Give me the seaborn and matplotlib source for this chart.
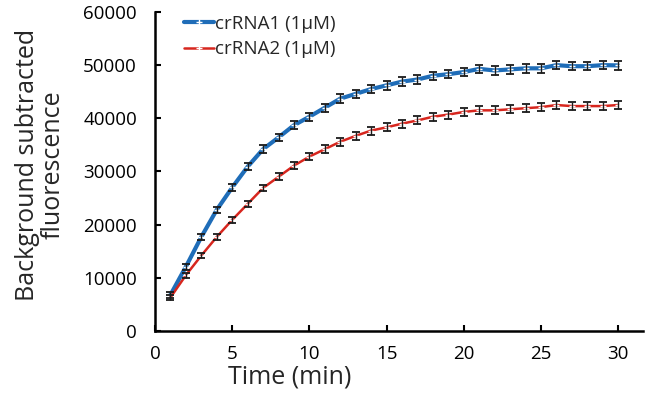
import numpy as np
import pandas as pd
import matplotlib
matplotlib.use("Agg")
import matplotlib.pyplot as plt
import seaborn as sns

time_min = list(range(1, 31))
crrna1 = [6800, 12100, 17700, 22800, 27000, 30900, 34200, 36400, 38700, 40300,
          42000, 43700, 44600, 45500, 46200, 46900, 47300, 48000, 48300, 48700,
          49300, 49000, 49200, 49400, 49400, 50000, 49800, 49800, 50000, 49950]
crrna2 = [6300, 10500, 14200, 17700, 20900, 23900, 26900, 29000, 31100, 32800,
          34200, 35600, 36700, 37700, 38300, 39000, 39600, 40300, 40700, 41200,
          41500, 41500, 41700, 41900, 42100, 42500, 42300, 42300, 42300, 42500]
err1 = [500, 550, 600, 600, 650, 650, 700, 700, 750, 750,
        750, 800, 800, 800, 800, 800, 800, 800, 800, 800,
        800, 800, 800, 800, 800, 800, 800, 800, 800, 800]
err2 = [450, 500, 550, 550, 600, 600, 650, 650, 700, 700,
        700, 750, 750, 750, 750, 750, 750, 750, 750, 750,
        750, 750, 750, 750, 750, 750, 750, 750, 750, 750]
series_names = ["crRNA1 (1\u00b5M)", "crRNA2 (1\u00b5M)"]
x_ticks = [0, 5, 10, 15, 20, 25, 30]
y_ticks = [0, 10000, 20000, 30000, 40000, 50000, 60000]

sns.set_theme(style="ticks")
plt.rcParams['font.family'] = ['Open Sans', 'DejaVu Sans']

fig = plt.figure(figsize=(6.5, 3.99), dpi=100)
ax = fig.add_axes([0.2385, 0.1704, 0.7505, 0.7996])

styles = [("#1f6db8", 3.0), ("#d7261e", 1.8)]
for name, ys, es, (col, lw) in zip(series_names, [crrna1, crrna2], [err1, err2], styles):
    d = pd.DataFrame({"Time": time_min, "Fluor": ys})
    sns.lineplot(data=d, x="Time", y="Fluor", color=col, linewidth=lw,
                 marker="+", markersize=5, markeredgewidth=1.0,
                 label=name, ax=ax, zorder=3)
    ax.errorbar(time_min, ys, yerr=es, fmt="none", ecolor="#1a1a1a",
                elinewidth=1.0, capsize=2.6, capthick=1.3, zorder=4)

ax.set_xlim(0, 31.6)
ax.set_ylim(0, 60000)
ax.set_xticks(x_ticks)
ax.set_yticks(y_ticks)
ax.tick_params(direction="in", length=4, width=1.5, labelsize=13.5, colors="black")
ax.tick_params(axis="y", pad=13)
ax.tick_params(axis="x", pad=10)
for s in ["top", "right"]:
    ax.spines[s].set_visible(False)
for s in ["left", "bottom"]:
    ax.spines[s].set_linewidth(1.8)
    ax.spines[s].set_color("black")

ax.set_xlabel("Time (min)", fontsize=18, labelpad=0)
ax.xaxis.set_label_coords(0.277, -0.105)
ax.set_ylabel("Background subtracted\nfluorescence", fontsize=18, labelpad=8,
              linespacing=1.0)
ax.yaxis.set_label_coords(-0.184, 0.52)

leg = ax.legend(loc="upper left", bbox_to_anchor=(0.045, 1.015), frameon=False,
                fontsize=13.5, handlelength=1.6, handletextpad=0.05, labelspacing=0.4,
                borderaxespad=0)

fig.savefig("out.png", dpi=100)
